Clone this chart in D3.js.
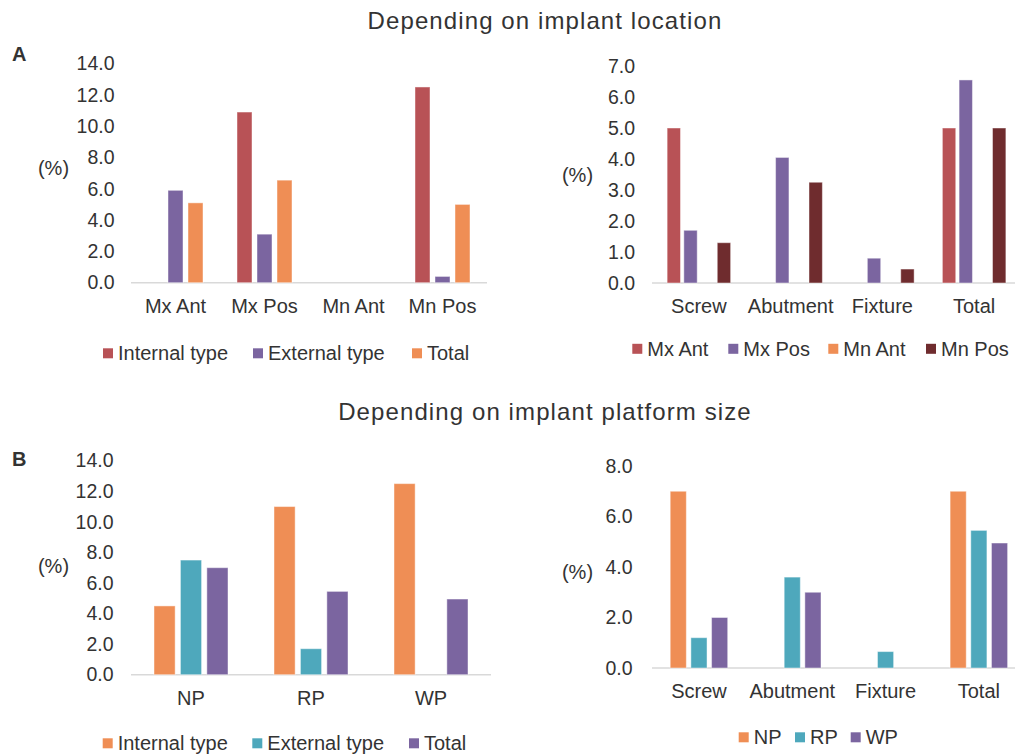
<!DOCTYPE html>
<html>
<head>
<meta charset="utf-8">
<script src="https://cdn.jsdelivr.net/npm/d3@7"></script>
<style>
  html, body { margin: 0; padding: 0; background: #fff; }
  svg { display: block; }
  text { font-family: "Liberation Sans", Arial, Helvetica, sans-serif; fill: #333; }
</style>
</head>
<body>
<svg id="chart" width="1015" height="755"></svg>
<script>
// ---------- DATA ----------
const titleA = "Depending on implant location";
const titleB = "Depending on implant platform size";

// Chart A-left
const aLeftCategories = ["Mx Ant", "Mx Pos", "Mn Ant", "Mn Pos"];
const aLeftSeriesNames = ["Internal type", "External type", "Total"];
const aLeftInternal = [0, 10.9, 0, 12.5];
const aLeftExternal = [5.9, 3.1, 0, 0.4];
const aLeftTotal = [5.1, 6.55, 0, 5.0];
const aLeftTicks = [0, 2, 4, 6, 8, 10, 12, 14];

// Chart A-right
const aRightCategories = ["Screw", "Abutment", "Fixture", "Total"];
const aRightSeriesNames = ["Mx Ant", "Mx Pos", "Mn Ant", "Mn Pos"];
const aRightMxAnt = [5.0, 0, 0, 5.0];
const aRightMxPos = [1.7, 4.05, 0.8, 6.55];
const aRightMnAnt = [0, 0, 0, 0];
const aRightMnPos = [1.3, 3.25, 0.45, 5.0];
const aRightTicks = [0, 1, 2, 3, 4, 5, 6, 7];

// Chart B-left
const bLeftCategories = ["NP", "RP", "WP"];
const bLeftSeriesNames = ["Internal type", "External type", "Total"];
const bLeftInternal = [4.5, 11.0, 12.5];
const bLeftExternal = [7.5, 1.7, 0];
const bLeftTotal = [7.0, 5.45, 4.95];
const bLeftTicks = [0, 2, 4, 6, 8, 10, 12, 14];

// Chart B-right
const bRightCategories = ["Screw", "Abutment", "Fixture", "Total"];
const bRightSeriesNames = ["NP", "RP", "WP"];
const bRightNP = [7.0, 0, 0, 7.0];
const bRightRP = [1.2, 3.6, 0.65, 5.45];
const bRightWP = [2.0, 3.0, 0, 4.95];
const bRightTicks = [0, 2, 4, 6, 8];

// ---------- STYLE ----------
const RED = "#b85256", PURPLE = "#7b65a0", ORANGE = "#ef8e55", TEAL = "#4ea8bc", DARKRED = "#6f2c2e";
const FONT = 20;

const svg = d3.select("#chart");

function drawChart(cfg) {
  const g = svg.append("g");
  const x0 = d3.scaleBand().domain(cfg.categories).range(cfg.xRange).paddingInner(0).paddingOuter(0);
  const step = x0.step();
  const x1 = d3.scaleBand().domain(cfg.seriesNames)
    .range([(step - cfg.groupWidth) / 2, (step + cfg.groupWidth) / 2])
    .paddingInner(cfg.barPad).paddingOuter(0);
  const y = d3.scaleLinear().domain(cfg.yDomain).range(cfg.yRange);

  // baseline
  g.append("line")
    .attr("x1", cfg.lineX[0]).attr("x2", cfg.lineX[1])
    .attr("y1", y(0)).attr("y2", y(0))
    .attr("stroke", "#d9d9d9").attr("stroke-width", 1.5);

  // bars
  cfg.seriesNames.forEach((s, si) => {
    g.append("g").selectAll("rect")
      .data(cfg.categories.map((c, ci) => ({ c, v: cfg.series[si][ci] })))
      .join("rect")
      .attr("x", d => x0(d.c) + x1(s))
      .attr("width", x1.bandwidth())
      .attr("y", d => y(d.v))
      .attr("height", d => y(0) - y(d.v))
      .attr("fill", cfg.colors[si])
      .attr("stroke", d => d.v > 0 ? "rgba(255,255,255,0.45)" : "none")
      .attr("stroke-width", 1);
  });

  // y axis
  const ya = g.append("g")
    .attr("transform", `translate(${cfg.tickRight},0)`)
    .call(d3.axisLeft(y).tickValues(cfg.ticks).tickFormat(d3.format(".1f")).tickSize(0).tickPadding(0));
  ya.select(".domain").remove();
  ya.selectAll("text").attr("font-size", cfg.tickFont).attr("fill", "#333")
    .style("font-family", '"Liberation Sans", Arial, sans-serif');

  // x axis
  const xa = g.append("g")
    .attr("transform", `translate(0,${y(0)})`)
    .call(d3.axisBottom(x0).tickSize(0));
  xa.select(".domain").remove();
  xa.selectAll("text").attr("font-size", FONT).attr("fill", "#333")
    .attr("y", cfg.catY - y(0)).attr("dy", "0.35em")
    .style("font-family", '"Liberation Sans", Arial, sans-serif');

  // (%) label
  g.append("text").attr("x", cfg.pctPos[0]).attr("y", cfg.pctPos[1])
    .attr("text-anchor", "middle").attr("dy", "0.35em").attr("font-size", FONT).text("(%)");

  // legend
  cfg.seriesNames.forEach((s, si) => {
    const lx = cfg.legendX[si];
    g.append("rect").attr("x", lx).attr("y", cfg.legendY - 5).attr("width", 10).attr("height", 10)
      .attr("fill", cfg.colors[si]);
    g.append("text").attr("x", lx + 15).attr("y", cfg.legendY).attr("dy", "0.35em")
      .attr("font-size", FONT).text(s);
  });
}

// titles
svg.append("text").attr("x", 545).attr("y", 21).attr("dy", "0.35em").attr("text-anchor", "middle")
  .attr("font-size", 24).attr("letter-spacing", 1.1).attr("fill", "#3a3a3a").text(titleA);
svg.append("text").attr("x", 545).attr("y", 412).attr("dy", "0.35em").attr("text-anchor", "middle")
  .attr("font-size", 24).attr("letter-spacing", 1.1).attr("fill", "#3a3a3a").text(titleB);

// panel letters
svg.append("text").attr("x", 12).attr("y", 54).attr("dy", "0.35em").attr("font-size", 20)
  .attr("font-weight", "bold").attr("fill", "#111").text("A");
svg.append("text").attr("x", 12).attr("y", 459).attr("dy", "0.35em").attr("font-size", 20)
  .attr("font-weight", "bold").attr("fill", "#111").text("B");

drawChart({
  categories: aLeftCategories, seriesNames: aLeftSeriesNames,
  series: [aLeftInternal, aLeftExternal, aLeftTotal], colors: [RED, PURPLE, ORANGE],
  xRange: [131, 487], groupWidth: 55, barPad: 0.25,
  yDomain: [0, 14], yRange: [282.7, 63.5], ticks: aLeftTicks, tickRight: 114.5, tickFont: 19.5,
  lineX: [131, 487], catY: 305.7, pctPos: [53.5, 168.3],
  legendX: [103, 253, 412], legendY: 353.3
});

drawChart({
  categories: aRightCategories, seriesNames: aRightSeriesNames,
  series: [aRightMxAnt, aRightMxPos, aRightMnAnt, aRightMnPos], colors: [RED, PURPLE, ORANGE, DARKRED],
  xRange: [653, 1020], groupWidth: 63.5, barPad: 0.2,
  yDomain: [0, 7], yRange: [283, 66], ticks: aRightTicks, tickRight: 635, tickFont: 19.5,
  lineX: [652, 1015], catY: 305.7, pctPos: [577.5, 175],
  legendX: [632.3, 728.3, 828.3, 926], legendY: 348.8
});

drawChart({
  categories: bLeftCategories, seriesNames: bLeftSeriesNames,
  series: [bLeftInternal, bLeftExternal, bLeftTotal], colors: [ORANGE, TEAL, PURPLE],
  xRange: [131, 491], groupWidth: 74, barPad: 0.2,
  yDomain: [0, 14], yRange: [674.7, 460.7], ticks: bLeftTicks, tickRight: 113.5, tickFont: 19.5,
  lineX: [131, 491], catY: 697.7, pctPos: [53.5, 566],
  legendX: [102.7, 252.3, 409], legendY: 743.3
});

drawChart({
  categories: bRightCategories, seriesNames: bRightSeriesNames,
  series: [bRightNP, bRightRP, bRightWP], colors: [ORANGE, TEAL, PURPLE],
  xRange: [652.3, 1025.5], groupWidth: 57.5, barPad: 0.22,
  yDomain: [0, 8], yRange: [668, 466], ticks: bRightTicks, tickRight: 632.5, tickFont: 19.5,
  lineX: [652, 1015], catY: 691, pctPos: [577.5, 571.7],
  legendX: [738.7, 795, 850.7], legendY: 737.3
});
</script>
</body>
</html>
